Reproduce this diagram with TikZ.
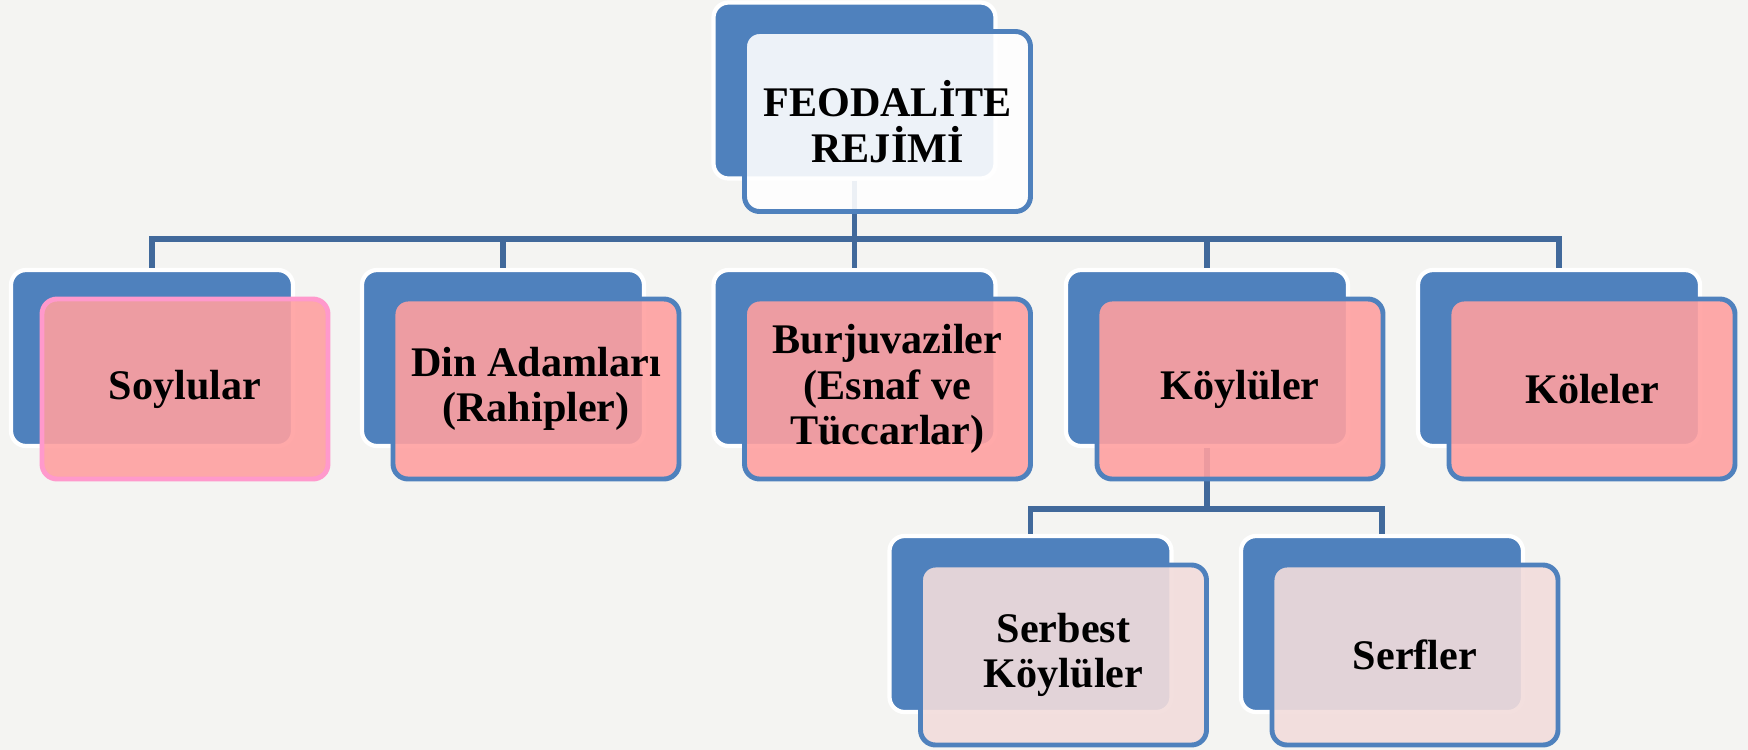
\documentclass[tikz,border=0pt]{standalone}
\usepackage{fontspec}
\setmainfont{Liberation Serif}
\usetikzlibrary{positioning}
\definecolor{backblue}{HTML}{4F81BD}
\definecolor{linkblue}{HTML}{41699B}
\definecolor{rosefill}{HTML}{FFA0A0}
\definecolor{rosedraw}{HTML}{FF99CC}
\definecolor{palefill}{HTML}{F2DCDB}
\definecolor{bggray}{HTML}{F4F4F2}
\tikzset{
  back/.style={draw=white, line width=1.2pt, fill=backblue, rounded corners=1.5mm,
    minimum width=2.82cm, minimum height=1.76cm, inner sep=0pt},
  front/.style={draw=backblue, line width=1.4pt, fill=rosefill, fill opacity=0.9,
    text opacity=1, rounded corners=1.5mm, minimum width=2.86cm, minimum height=1.8cm,
    inner sep=0pt, align=center, font=\bfseries\fontsize{12}{13}\selectfont},
  link/.style={draw=linkblue, line width=1.5pt},
}
\begin{document}
\begin{tikzpicture}
\fill[bggray] (0,0) rectangle (17.48,-7.5);
% back boxes
\node[back] (feodal) at (8.545,-0.905){};
\node[back] (soylu) at (1.52,-3.58){};
\node[back] (din) at (5.03,-3.58){};
\node[back] (burjuva) at (8.545,-3.58){};
\node[back] (koylu) at (12.07,-3.58){};
\node[back] (kole) at (15.59,-3.58){};
\node[back] (serbest) at (10.305,-6.24){};
\node[back] (serf) at (13.82,-6.24){};
% connectors
\coordinate (bus) at (0,-2.39);
\coordinate (subbus) at (0,-5.09);
\draw[link] (feodal.south) -- (feodal.south |- bus);
\draw[link] (soylu.north) -- (soylu.north |- bus) -- (kole.north |- bus) -- (kole.north);
\foreach \n in {din,burjuva,koylu}
  \draw[link] (\n.north |- bus) -- (\n.north);
\draw[link] (koylu.south) -- (koylu.south |- subbus);
\draw[link] (serbest.north) -- (serbest.north |- subbus) -- (serf.north |- subbus) -- (serf.north);
% front boxes
\node[front, fill=white] (feodal-t) at ([shift={(0.33,-0.31)}]feodal.center){FEODALİTE\\REJİMİ};
\node[front, draw=rosedraw] (soylu-t) at ([shift={(0.33,-0.31)}]soylu.center){Soylular};
\node[front] (din-t) at ([shift={(0.33,-0.31)}]din.center){Din Adamları\\(Rahipler)};
\node[front] (burjuva-t) at ([shift={(0.33,-0.31)}]burjuva.center){Burjuvaziler\\(Esnaf ve\\Tüccarlar)};
\node[front] (koylu-t) at ([shift={(0.33,-0.31)}]koylu.center){Köylüler};
\node[front] (kole-t) at ([shift={(0.33,-0.31)}]kole.center){Köleler};
\node[front, fill=palefill] (serbest-t) at ([shift={(0.33,-0.31)}]serbest.center){Serbest\\Köylüler};
\node[front, fill=palefill] (serf-t) at ([shift={(0.33,-0.31)}]serf.center){Serfler};

\end{tikzpicture}
\end{document}
